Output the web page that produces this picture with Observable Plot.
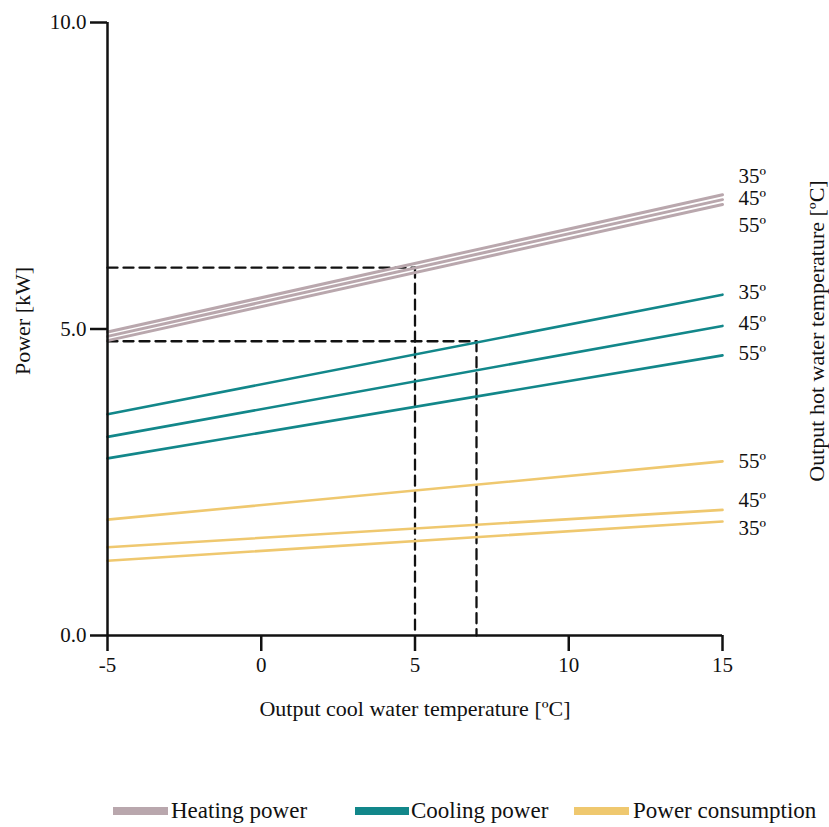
<!DOCTYPE html>
<html><head><meta charset="utf-8">
<script src="https://cdn.jsdelivr.net/npm/d3@7"></script>
<script src="https://cdn.jsdelivr.net/npm/@observablehq/plot@0.6"></script>
<style>
body{margin:0;background:#fff;font-family:"Liberation Serif","Times New Roman",serif;}
#legend{position:relative;width:829px;height:32px;font-size:23px;color:#111;}
#legend .sw{position:absolute;top:12px;height:8px;}
#legend .lb{position:absolute;top:0;line-height:32px;white-space:nowrap;}
</style></head><body>
<div id="chart"></div>
<div id="legend"></div>
<script>
// x positions of line endpoints (output cool water temperature, °C)
const xEnds = [-5, 15];
const temps = ["35º", "45º", "55º"];
// Heating power [kW]
const heating35 = [4.95, 7.19];
const heating45 = [4.88, 7.11];
const heating55 = [4.81, 7.03];
// Cooling power [kW]
const cooling35 = [3.61, 5.56];
const cooling45 = [3.24, 5.05];
const cooling55 = [2.89, 4.57];
// Power consumption [kW]
const power35 = [1.22, 1.86];
const power45 = [1.44, 2.05];
const power55 = [1.89, 2.84];
// label y positions (35º, 45º, 55º)
const heatingLabelY = [7.49, 7.13, 6.70];
const coolingLabelY = [5.60, 5.09, 4.60];
const powerLabelY = [1.75, 2.20, 2.84];
// dashed guides
const guideX = [5, 7];
const guideY = [6.0, 4.8];
const xTicks = [-5, 0, 5, 10, 15];
const yTicks = [0, 5, 10];
const seriesNames = ["Heating power", "Cooling power", "Power consumption"];
const seriesColors = ["#b9a7ad", "#12878a", "#efc86f"];

const groups = [
  {name: seriesNames[0], color: seriesColors[0], sets: [heating35, heating45, heating55], labels: heatingLabelY},
  {name: seriesNames[1], color: seriesColors[1], sets: [cooling35, cooling45, cooling55], labels: coolingLabelY},
  {name: seriesNames[2], color: seriesColors[2], sets: [power35, power45, power55], labels: powerLabelY}
];
const rows = [];
const labelRows = [];
groups.forEach(g => {
  g.sets.forEach((vals, i) => {
    vals.forEach((v, j) => rows.push({x: xEnds[j], y: v, id: g.name + temps[i], color: g.color, w: g.name === seriesNames[0] ? 3 : 2.6}));
    labelRows.push({x: xEnds[1], y: g.labels[i], text: temps[i]});
  });
});
const guideRows = [];
guideX.forEach((gx, i) => {
  guideRows.push({id: "h" + i, x: xEnds[0], y: guideY[i]});
  guideRows.push({id: "h" + i, x: gx, y: guideY[i]});
  guideRows.push({id: "v" + i, x: gx, y: guideY[i]});
  guideRows.push({id: "v" + i, x: gx, y: 0});
});

const chart = Plot.plot({
  width: 829, height: 795,
  marginLeft: 107, marginRight: 107, marginTop: 22, marginBottom: 160,
  style: {fontFamily: "Liberation Serif, Times New Roman, serif", fontSize: "21px", color: "#111", background: "#fff"},
  x: {domain: [-5, 15]},
  y: {domain: [0, 10]},
  marks: [
    Plot.line(guideRows, {x: "x", y: "y", z: "id", stroke: "#111", strokeWidth: 2.3, strokeDasharray: "10,6"}),
    Plot.line(rows, {x: "x", y: "y", z: "id", stroke: "color", strokeWidth: "w"}),
    Plot.ruleX([xEnds[0]], {y1: yTicks[0], y2: yTicks[2], stroke: "#111", strokeWidth: 2.5}),
    Plot.ruleY([yTicks[0]], {x1: xEnds[0], x2: xEnds[1], stroke: "#111", strokeWidth: 2.5}),
    Plot.axisX({ticks: xTicks, tickSize: 16, tickPadding: 6, tickFormat: d => String(d), strokeWidth: 2.5, fontSize: 21, label: null}),
    Plot.axisY({ticks: yTicks, tickSize: 17, tickPadding: 4, tickFormat: d3.format(".1f"), strokeWidth: 2.5, fontSize: 21, label: null}),
    Plot.text(labelRows, {x: "x", y: "y", text: "text", textAnchor: "start", dx: 16, fontSize: 21}),
    Plot.text(["Output cool water temperature [ºC]"], {frameAnchor: "bottom", dy: 80, fontSize: 22}),
    Plot.text(["Power [kW]"], {frameAnchor: "left", textAnchor: "middle", dx: -85, dy: -8, rotate: -90, fontSize: 22}),
    Plot.text(["Output hot water temperature [ºC]"], {frameAnchor: "right", textAnchor: "middle", dx: 94, dy: 2, rotate: -90, fontSize: 22})
  ]
});
document.getElementById("chart").appendChild(chart);

const legend = document.getElementById("legend");
const swLeft = [113, 355, 574];
const swWidth = [55, 54, 55];
const lbLeft = [171, 411, 633];
seriesNames.forEach((n, i) => {
  const s = document.createElement("div");
  s.className = "sw"; s.style.left = swLeft[i] + "px"; s.style.width = swWidth[i] + "px"; s.style.background = seriesColors[i];
  legend.appendChild(s);
  const t = document.createElement("div");
  t.className = "lb"; t.style.left = lbLeft[i] + "px"; t.textContent = n;
  legend.appendChild(t);
});
</script></body></html>
